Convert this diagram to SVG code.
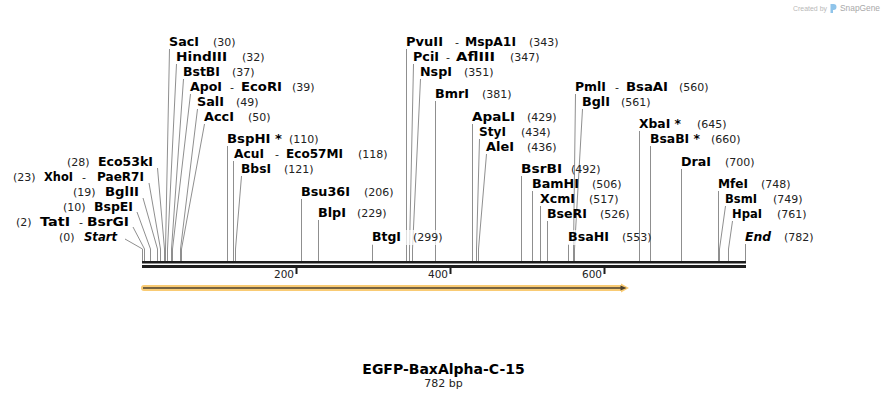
<svg xmlns="http://www.w3.org/2000/svg" width="888" height="400" viewBox="0 0 888 400">
<style>
.n{font-family:"DejaVu Sans",Verdana,sans-serif;font-weight:bold;font-size:12px;fill:#000}
.i{font-style:italic}
.p{font-family:"DejaVu Sans",Verdana,sans-serif;font-size:11px;fill:#222}
.e{text-anchor:end}
.ld{fill:none;stroke:#8f8f8f;stroke-width:1}
.tk{font-family:"DejaVu Sans",Verdana,sans-serif;font-size:10.5px;fill:#222;text-anchor:end}
.bg{fill:#fff;fill-opacity:0.7}
</style>
<rect width="888" height="400" fill="#fff"/>

<g id="watermark">
<text x="793" y="10.5" font-family="Liberation Sans,Arial,sans-serif" font-size="7" fill="#b8b8b8" textLength="34" lengthAdjust="spacingAndGlyphs">Created by</text>
<path d="M830.5,4 h3 a3,3 0 0 1 0,6 h-0.5 v3 h-2.5 z" fill="#8fc4ea"/>
<text x="840" y="11" font-family="Liberation Sans,Arial,sans-serif" font-size="8.4" fill="#a8a8a8" textLength="40" lengthAdjust="spacingAndGlyphs">SnapGene</text>
</g>

<g id="connectors">
<path class="ld" d="M169.5,49 L165.5,249 V261"/>
<path class="ld" d="M176.5,64 L167.5,249 V261"/>
<path class="ld" d="M183.5,79 L171.5,249 V261"/>
<path class="ld" d="M190.5,94 L172.5,249 V261"/>
<path class="ld" d="M197.5,109 L180.5,249 V261"/>
<path class="ld" d="M204.5,124 L181.5,249 V261"/>
<path class="ld" d="M227.5,146 V261"/>
<path class="ld" d="M233.5,161 V261"/>
<path class="ld" d="M241.5,176 L235.5,249 V261"/>
<path class="ld" d="M301.5,199 V261"/>
<path class="ld" d="M318.5,220 V261"/>
<path class="ld" d="M372.5,244 V261"/>
<path class="ld" d="M406.5,49 V261"/>
<path class="ld" d="M413.5,64 L409.5,249 V261"/>
<path class="ld" d="M420.5,79 L412.5,249 V261"/>
<path class="ld" d="M435.5,101 V261"/>
<path class="ld" d="M472.5,124 V261"/>
<path class="ld" d="M479.5,139 L476.5,249 V261"/>
<path class="ld" d="M486.5,154 L478.5,249 V261"/>
<path class="ld" d="M521.5,176 V261"/>
<path class="ld" d="M532.5,191 V261"/>
<path class="ld" d="M540.5,206 V261"/>
<path class="ld" d="M547.5,221 V261"/>
<path class="ld" d="M568.5,244 V261"/>
<path class="ld" d="M575.5,94 L573.5,249 V261"/>
<path class="ld" d="M582.5,109 L574.5,249 V261"/>
<path class="ld" d="M639.5,131 V261"/>
<path class="ld" d="M650.5,146 V261"/>
<path class="ld" d="M681.5,169 V261"/>
<path class="ld" d="M718.5,191 V261"/>
<path class="ld" d="M725.5,206 L719.5,249 V261"/>
<path class="ld" d="M732.5,221 L728.5,249 V261"/>
<path class="ld" d="M745.5,244 V261"/>
<path class="ld" d="M157.5,168 L164.5,249 V261"/>
<path class="ld" d="M149,183 L160.5,249 V261"/>
<path class="ld" d="M143,198 L157.5,249 V261"/>
<path class="ld" d="M137,212 L150.5,249 V261"/>
<path class="ld" d="M133,227 L144.5,249 V261"/>
<path class="ld" d="M125,239 L142.5,249 V261"/>
</g>

<g id="sequence">
<rect x="142" y="261" width="604" height="2.5" fill="#1e1e1e"/>
<rect x="142" y="265" width="604" height="3" fill="#1e1e1e"/>
<rect x="295.5" y="268" width="2" height="6" fill="#1e1e1e"/>
<rect x="449.5" y="268" width="2" height="6" fill="#1e1e1e"/>
<rect x="603.5" y="268" width="2" height="6" fill="#1e1e1e"/>
<text class="tk" x="294" y="277.5">200</text>
<text class="tk" x="448" y="277.5">400</text>
<text class="tk" x="602" y="277.5">600</text>
</g>

<g id="feature">
<path d="M144,285 H621 V283.5 L629,288 L621,292.5 V291 H144 A3,3 0 0 1 144,285 Z" fill="#f9cb74"/>
<line x1="143" y1="288" x2="622" y2="288" stroke="#4a4030" stroke-width="1.5"/>
<path d="M620.5,285.5 L626.5,288 L620.5,290.5 Z" fill="#4a4030"/>
</g>

<g id="l-saci"><text class="n" x="169" y="46" textLength="30" lengthAdjust="spacingAndGlyphs">SacI</text><text class="p" x="213" y="46">(30)</text></g>
<g id="l-hindiii"><text class="n" x="176" y="61" textLength="51" lengthAdjust="spacingAndGlyphs">HindIII</text><text class="p" x="242" y="61">(32)</text></g>
<g id="l-bstbi"><text class="n" x="183" y="76" textLength="37" lengthAdjust="spacingAndGlyphs">BstBI</text><text class="p" x="232" y="76">(37)</text></g>
<g id="l-apoi"><text class="n" x="190" y="91" textLength="32" lengthAdjust="spacingAndGlyphs">ApoI</text><text class="p" x="230" y="91">-</text><text class="n" x="241" y="91" textLength="41" lengthAdjust="spacingAndGlyphs">EcoRI</text><text class="p" x="292" y="91">(39)</text></g>
<g id="l-sali"><text class="n" x="197" y="106" textLength="27" lengthAdjust="spacingAndGlyphs">SalI</text><text class="p" x="236" y="106">(49)</text></g>
<g id="l-acci"><text class="n" x="204" y="121" textLength="30" lengthAdjust="spacingAndGlyphs">AccI</text><text class="p" x="248" y="121">(50)</text></g>
<g id="l-bsphi"><text class="n" x="227" y="143" textLength="55" lengthAdjust="spacingAndGlyphs">BspHI *</text><text class="p" x="289" y="143">(110)</text></g>
<g id="l-acui"><text class="n" x="234" y="158" textLength="30" lengthAdjust="spacingAndGlyphs">AcuI</text><text class="p" x="275" y="158">-</text><text class="n" x="286" y="158" textLength="57" lengthAdjust="spacingAndGlyphs">Eco57MI</text><text class="p" x="358" y="158">(118)</text></g>
<g id="l-bbsi"><text class="n" x="241" y="173" textLength="30" lengthAdjust="spacingAndGlyphs">BbsI</text><text class="p" x="284" y="173">(121)</text></g>
<g id="l-bsu36i"><text class="n" x="301" y="196" textLength="49" lengthAdjust="spacingAndGlyphs">Bsu36I</text><text class="p" x="364" y="196">(206)</text></g>
<g id="l-blpi"><text class="n" x="318" y="217" textLength="28" lengthAdjust="spacingAndGlyphs">BlpI</text><text class="p" x="357" y="217">(229)</text></g>
<g id="l-btgi"><rect class="bg" x="371" y="230" width="76" height="15"/><text class="n" x="372" y="241" textLength="29" lengthAdjust="spacingAndGlyphs">BtgI</text><text class="p" x="413" y="241">(299)</text></g>

<g id="l-pvuii"><text class="n" x="406" y="46" textLength="37" lengthAdjust="spacingAndGlyphs">PvuII</text><text class="p" x="455" y="46">-</text><text class="n" x="465" y="46" textLength="51" lengthAdjust="spacingAndGlyphs">MspA1I</text><text class="p" x="529" y="46">(343)</text></g>
<g id="l-pcii"><text class="n" x="413" y="61" textLength="26" lengthAdjust="spacingAndGlyphs">PciI</text><text class="p" x="446" y="61">-</text><text class="n" x="456" y="61" textLength="39" lengthAdjust="spacingAndGlyphs">AflIII</text><text class="p" x="510" y="61">(347)</text></g>
<g id="l-nspi"><text class="n" x="420" y="76" textLength="32" lengthAdjust="spacingAndGlyphs">NspI</text><text class="p" x="464" y="76">(351)</text></g>
<g id="l-bmri"><text class="n" x="435" y="98" textLength="34" lengthAdjust="spacingAndGlyphs">BmrI</text><text class="p" x="482" y="98">(381)</text></g>
<g id="l-apali"><text class="n" x="472" y="121" textLength="43" lengthAdjust="spacingAndGlyphs">ApaLI</text><text class="p" x="527" y="121">(429)</text></g>
<g id="l-styi"><text class="n" x="479" y="136" textLength="27" lengthAdjust="spacingAndGlyphs">StyI</text><text class="p" x="521" y="136">(434)</text></g>
<g id="l-alei"><text class="n" x="486" y="151" textLength="28" lengthAdjust="spacingAndGlyphs">AleI</text><text class="p" x="527" y="151">(436)</text></g>
<g id="l-bsrbi"><text class="n" x="521" y="173" textLength="41" lengthAdjust="spacingAndGlyphs">BsrBI</text><text class="p" x="571" y="173">(492)</text></g>
<g id="l-bamhi"><text class="n" x="532" y="188" textLength="47" lengthAdjust="spacingAndGlyphs">BamHI</text><text class="p" x="592" y="188">(506)</text></g>
<g id="l-xcmi"><text class="n" x="540" y="203" textLength="35" lengthAdjust="spacingAndGlyphs">XcmI</text><text class="p" x="589" y="203">(517)</text></g>
<g id="l-beri"><text class="n" x="547" y="218" textLength="40" lengthAdjust="spacingAndGlyphs">BseRI</text><text class="p" x="600" y="218">(526)</text></g>
<g id="l-bsahi"><rect class="bg" x="567" y="230" width="46" height="15"/><text class="n" x="568" y="241" textLength="41" lengthAdjust="spacingAndGlyphs">BsaHI</text><text class="p" x="622" y="241">(553)</text></g>
<g id="l-pmli"><text class="n" x="575" y="91" textLength="31" lengthAdjust="spacingAndGlyphs">PmlI</text><text class="p" x="615" y="91">-</text><text class="n" x="626" y="91" textLength="42" lengthAdjust="spacingAndGlyphs">BsaAI</text><text class="p" x="679" y="91">(560)</text></g>
<g id="l-bgli"><text class="n" x="582" y="106" textLength="28" lengthAdjust="spacingAndGlyphs">BglI</text><text class="p" x="621" y="106">(561)</text></g>
<g id="l-xbai"><text class="n" x="639" y="128" textLength="42" lengthAdjust="spacingAndGlyphs">XbaI *</text><text class="p" x="697" y="128">(645)</text></g>
<g id="l-bsabi"><text class="n" x="650" y="143" textLength="50" lengthAdjust="spacingAndGlyphs">BsaBI *</text><text class="p" x="711" y="143">(660)</text></g>
<g id="l-drai"><text class="n" x="681" y="166" textLength="30" lengthAdjust="spacingAndGlyphs">DraI</text><text class="p" x="725" y="166">(700)</text></g>
<g id="l-mfei"><text class="n" x="718" y="188" textLength="30" lengthAdjust="spacingAndGlyphs">MfeI</text><text class="p" x="761" y="188">(748)</text></g>
<g id="l-bsmi"><text class="n" x="725" y="203" textLength="32" lengthAdjust="spacingAndGlyphs">BsmI</text><text class="p" x="773" y="203">(749)</text></g>
<g id="l-hpai"><text class="n" x="732" y="218" textLength="30" lengthAdjust="spacingAndGlyphs">HpaI</text><text class="p" x="777" y="218">(761)</text></g>
<g id="l-end"><text class="n i" x="745" y="241" textLength="26" lengthAdjust="spacingAndGlyphs">End</text><text class="p" x="784" y="241">(782)</text></g>

<g id="l-eco53ki"><text class="p" x="67" y="166">(28)</text><text class="n e" x="153" y="166" textLength="55" lengthAdjust="spacingAndGlyphs">Eco53kI</text></g>
<g id="l-xhoi"><text class="p" x="13" y="181">(23)</text><text class="n" x="44" y="181" textLength="29" lengthAdjust="spacingAndGlyphs">XhoI</text><text class="p" x="82" y="181">-</text><text class="n e" x="144" y="181" textLength="47" lengthAdjust="spacingAndGlyphs">PaeR7I</text></g>
<g id="l-bglii"><text class="p" x="73" y="196">(19)</text><text class="n e" x="139" y="196" textLength="34" lengthAdjust="spacingAndGlyphs">BglII</text></g>
<g id="l-bspei"><text class="p" x="63" y="211">(10)</text><text class="n e" x="133" y="211" textLength="39" lengthAdjust="spacingAndGlyphs">BspEI</text></g>
<g id="l-tati"><text class="p" x="16" y="226">(2)</text><text class="n" x="40" y="226" textLength="30" lengthAdjust="spacingAndGlyphs">TatI</text><text class="p" x="79" y="226">-</text><text class="n e" x="129" y="226" textLength="42" lengthAdjust="spacingAndGlyphs">BsrGI</text></g>
<g id="l-start"><text class="p" x="59" y="241">(0)</text><text class="n i e" x="117" y="241" textLength="33" lengthAdjust="spacingAndGlyphs">Start</text></g>

<g id="title">
<text x="443.5" y="374" text-anchor="middle" font-family="DejaVu Sans,Verdana,sans-serif" font-weight="bold" font-size="14" fill="#000">EGFP-BaxAlpha-C-15</text>
<text x="443.5" y="387" text-anchor="middle" font-family="DejaVu Sans,Verdana,sans-serif" font-size="11" fill="#222">782 bp</text>
</g>
</svg>
